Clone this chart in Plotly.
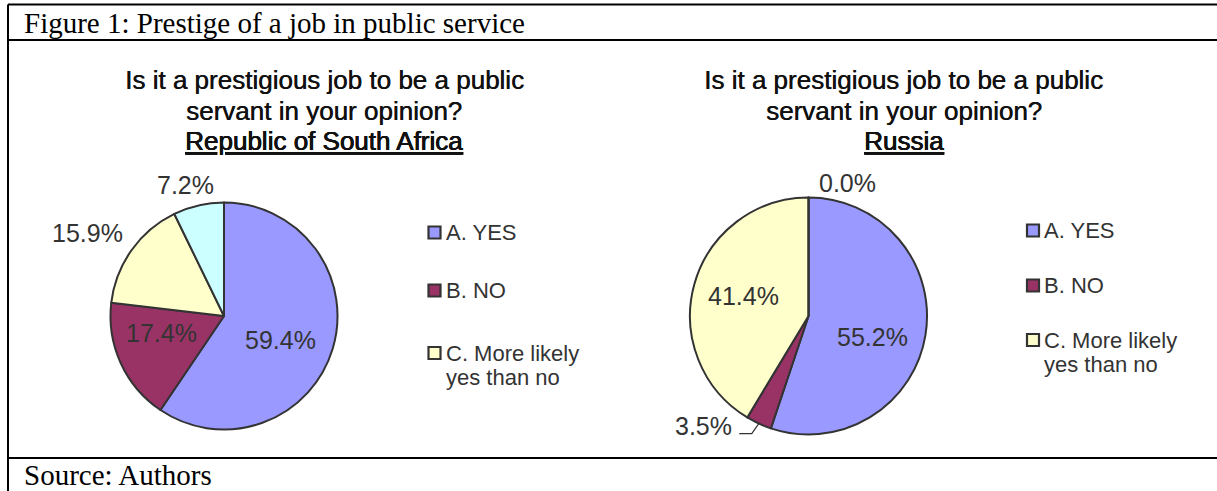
import math
import plotly.graph_objects as go

# ---- data -------------------------------------------------------------
slice_names = ["A. YES", "B. NO", "C. More likely yes than no", "Other"]
legend_names = ["A. YES", "B. NO", "C. More likely<br>yes than no"]
slice_colors = ["#9999FF", "#993366", "#FFFFCC", "#CCFFFF"]

rsa_values = [59.4, 17.4, 15.9, 7.2]
russia_values = [55.2, 3.5, 41.4, 0.0]

title_lines = ["Is it a prestigious job to be a public", "servant in your opinion?"]
rsa_country = "Republic of South Africa"
russia_country = "Russia"

caption = "Figure 1: Prestige of a job in public service"
source = "Source: Authors"

# ---- page geometry (pixels, y measured downward) ----------------------
W, H = 1217, 491


def X(px):
    return px / W


def Y(py):
    return 1 - py / H


SANS = "Liberation Sans, Arial, sans-serif"
SERIF = "Liberation Serif, Times New Roman, serif"

panels = [
    dict(values=rsa_values, country=rsa_country, cx=224.0, cy=316.0, r=113.5,
         title_x=324, legend_x=428.5, legend_y=[232.5, 290.5, 353.0],
         # per slice: (mode, dx, dy) label placement in pixels
         labels=[("in", -5, 5), ("in", -4, -10), ("out", -44, -17), ("out", -13, -20)],
         leader=None),
    dict(values=russia_values, country=russia_country, cx=808.5, cy=316.0, r=118.5,
         title_x=904, legend_x=1027.0, legend_y=[230.5, 285.5, 340.0],
         labels=[("in", -3, 10), ("out", -55, 2), ("in", 0, -2), ("out", 39, -15)],
         leader=1),
]

fig = go.Figure()
annotations = []
shapes = []

for p in panels:
    cx, cy, r = p["cx"], p["cy"], p["r"]
    vals = p["values"]
    fig.add_trace(go.Pie(
        values=vals,
        labels=slice_names,
        marker=dict(colors=slice_colors, line=dict(color="#333333", width=2)),
        sort=False,
        direction="clockwise",
        rotation=0,
        textinfo="none",
        hovertemplate="%{label}: %{value:.1f}%<extra></extra>",
        showlegend=False,
        domain=dict(x=[X(cx - r), X(cx + r)], y=[Y(cy + r), Y(cy - r)]),
    ))

    total = sum(vals)
    cum = 0.0
    for i, v in enumerate(vals):
        theta = 2 * math.pi * (cum + v / 2) / total
        cum += v
        mode, dx, dy = p["labels"][i]
        k = 0.57 if mode == "in" else 1.0
        ex = cx + k * r * math.sin(theta)
        ey = cy - k * r * math.cos(theta)
        annotations.append(dict(
            x=X(ex), y=Y(ey), xref="paper", yref="paper",
            text=f"{v:.1f}%", showarrow=False,
            xshift=dx, yshift=-dy,
            xanchor="center", yanchor="middle",
            font=dict(family=SANS, size=25, color="#333333"),
        ))
        if p["leader"] == i:
            pts = [(ex, ey), (ex - 7, ey + 10), (ex - 19.5, ey + 10)]
            path = "M " + " L ".join(f"{X(a):.5f},{Y(b):.5f}" for a, b in pts)
            shapes.append(dict(type="path", path=path, xref="paper", yref="paper",
                               line=dict(color="#333333", width=1.2)))

    # chart title (slightly heavier than regular weight)
    for j, line in enumerate(title_lines + [f"<u>{p['country']}</u>"]):
        annotations.append(dict(
            x=X(p["title_x"]), y=Y([80, 111, 141][j]), xref="paper", yref="paper",
            text=line, showarrow=False, xanchor="center", yanchor="middle",
            font=dict(family=SANS, size=26, color="#111111",
                      shadow="0.5px 0px 0px #111111"),
        ))

    # legend
    lx = p["legend_x"]
    for j, name in enumerate(legend_names):
        ly = p["legend_y"][j]
        shapes.append(dict(type="rect", xref="paper", yref="paper",
                           x0=X(lx), x1=X(lx + 12), y0=Y(ly + 6), y1=Y(ly - 6),
                           fillcolor=slice_colors[j],
                           line=dict(color="#333333", width=2.2)))
        for k, part in enumerate(name.split("<br>")):
            annotations.append(dict(
                x=X(lx + 15), y=Y(ly + 24 * k), xref="paper", yref="paper",
                text=part, showarrow=False, xanchor="left", yanchor="middle",
                font=dict(family=SANS, size=22, color="#333333"),
            ))

# frame lines (horizontal rules run past the right page edge)
frame = [((8, 4.5), (W + 5, 4.5)), ((8, 40), (W + 5, 40)), ((8, 458), (W + 5, 458)),
         ((8, 4.5), (8, H + 5))]
for (a, b), (c, d) in frame:
    shapes.append(dict(type="line", xref="paper", yref="paper",
                       x0=X(a), y0=Y(b), x1=X(c), y1=Y(d),
                       line=dict(color="black", width=2)))

annotations.append(dict(x=X(22), y=Y(23), xref="paper", yref="paper", text=caption,
                        showarrow=False, xanchor="left", yanchor="middle",
                        font=dict(family=SERIF, size=29, color="black")))
annotations.append(dict(x=X(22), y=Y(475), xref="paper", yref="paper", text=source,
                        showarrow=False, xanchor="left", yanchor="middle",
                        font=dict(family=SERIF, size=29, color="black")))

fig.update_layout(
    width=W, height=H,
    margin=dict(l=0, r=0, t=0, b=0),
    paper_bgcolor="white", plot_bgcolor="white",
    annotations=annotations, shapes=shapes,
    showlegend=False,
)

fig.write_html("out.html")
